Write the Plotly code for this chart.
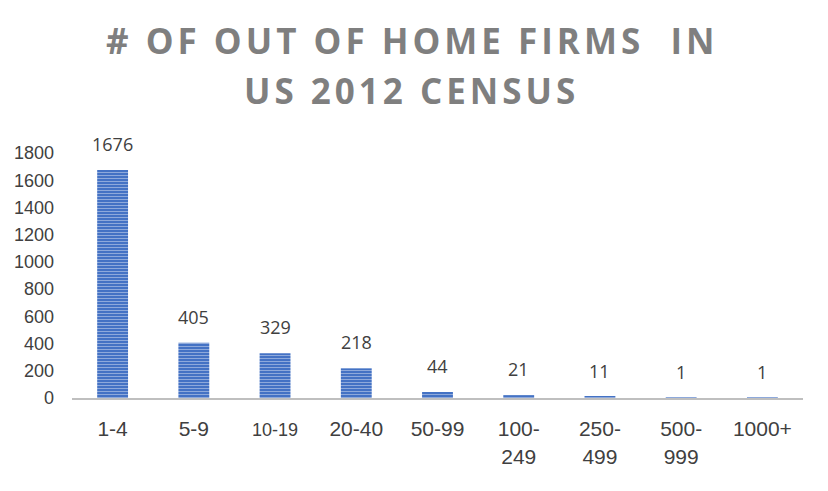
import plotly.graph_objects as go

# Datos
size_classes = ["1-4", "5-9", "10-19", "20-40", "50-99", "100-249", "250-499", "500-999", "1000+"]
tick_labels = ["1-4", "5-9", "<span style='font-size:18px'>10-19</span>", "20-40", "50-99",
               "100-<br>249", "250-<br>499", "500-<br>999", "1000+"]
firm_counts = [1676, 405, 329, 218, 44, 21, 11, 1, 1]
y_ticks = list(range(0, 2000, 200))
title_lines = ["# OF OUT OF HOME FIRMS  IN", "US 2012 CENSUS"]

BLUE = "#4472C4"

fig = go.Figure()
fig.add_trace(go.Bar(
    x=size_classes,
    y=firm_counts,
    width=0.38,
    marker=dict(
        color=BLUE,
        line=dict(width=0),
        pattern=dict(shape="-", fgcolor="#8EA9DB", bgcolor=BLUE, size=3, solidity=0.35, fillmode="replace"),
    ),
    hoverinfo="x+y",
))

# etiquetas de datos encima de cada barra
for cat, val in zip(size_classes, firm_counts):
    fig.add_annotation(
        x=cat, y=val, text=str(val),
        showarrow=False, yanchor="bottom", yshift=12,
        font=dict(family="Open Sans", size=18, color="#404040"),
    )

# título en dos líneas (interlineado como el original)
for line, ypos in zip(title_lines, [1.458, 1.254]):
    fig.add_annotation(
        text=f"<span style='letter-spacing:4px'>{line}</span>",
        xref="paper", yref="paper", x=0.465, y=ypos,
        xanchor="center", yanchor="middle", showarrow=False,
        font=dict(family="Open Sans", size=35, color="#7F7F7F", weight=700),
    )

# el body del html tiene 8px de margen
fig.update_layout(
    width=820, height=483,
    margin=dict(l=64, r=25, t=145, b=93),
    paper_bgcolor="white",
    plot_bgcolor="white",
    showlegend=False,
)
fig.update_xaxes(
    tickvals=size_classes, ticktext=tick_labels,
    showline=True, linecolor="#BFBFBF", linewidth=2,
    showgrid=False, ticks="", ticklabelstandoff=11, automargin=False,
    tickfont=dict(family="Liberation Sans", size=21, color="#404040"),
)
fig.update_yaxes(
    range=[0, 1800], tickvals=y_ticks,
    showgrid=False, zeroline=False, showline=False, ticks="",
    ticklabelstandoff=17, automargin=False,
    tickfont=dict(family="Liberation Sans", size=18, color="#404040"),
)

fig.write_html("out.html")
